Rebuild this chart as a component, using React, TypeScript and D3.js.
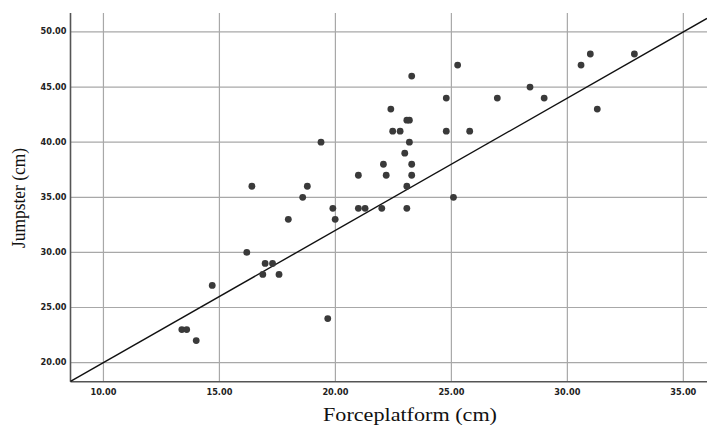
import React from "react";
import * as d3 from "d3";

const forceplatform = [
  13.38, 13.59, 14.0, 14.69, 16.18, 16.4, 16.87, 16.97, 17.29, 17.57, 17.97, 18.59, 18.79, 19.38, 19.67, 19.89,
  19.99, 20.99, 20.99, 21.28, 22.0, 22.07, 22.19, 22.39, 22.47, 22.79, 22.99, 23.08, 23.19, 23.19, 23.08, 23.08,
  23.29, 23.29, 23.29, 24.78, 24.78, 25.09, 25.27, 25.79, 26.98, 28.39, 29.0, 30.59, 30.99, 31.29, 32.89,
];
const jumpster = [
  23, 23, 22, 27, 30, 36, 28, 29, 29, 28, 33, 35, 36, 40, 24, 34,
  33, 37, 34, 34, 34, 38, 37, 43, 41, 41, 39, 42, 42, 40, 36, 34,
  46, 38, 37, 44, 41, 35, 47, 41, 44, 45, 44, 47, 48, 43, 48,
];
const xTicks = [10, 15, 20, 25, 30, 35];
const yTicks = [20, 25, 30, 35, 40, 45, 50];
const fitIntercept = 8;
const fitSlope = 1.2;
const xTitle = "Forceplatform (cm)";
const yTitle = "Jumpster (cm)";

export default function App() {
  const W = 707;
  const H = 426;
  const left = 70.5;
  const right = 707;
  const top = 13;
  const bottom = 381.7;
  const x = d3.scaleLinear().domain([8.58, 36.02]).range([left, right]);
  const y = d3.scaleLinear().domain([18.27, 51.72]).range([bottom, top]);
  const fmt = d3.format(".2f");
  const xd = x.domain();
  const line = d3.line<number>()
    .x((v) => x(v))
    .y((v) => y(fitIntercept + fitSlope * v));
  const pts = forceplatform.map((v, i) => [v, jumpster[i]]);
  return (
    <svg width={W} height={H} style={{ position: "absolute", left: 0, top: 0, background: "#fff" }}>
      <g>
        {yTicks.map((t) => (
          <line key={"gy" + t} x1={left} x2={right} y1={y(t)} y2={y(t)} stroke="#a8a8a8" strokeWidth={1.2} />
        ))}
        {xTicks.map((t) => (
          <line key={"gx" + t} x1={x(t)} x2={x(t)} y1={top} y2={bottom} stroke="#a8a8a8" strokeWidth={1.2} />
        ))}
      </g>
      <line x1={left} x2={left} y1={top} y2={bottom} stroke="#555" strokeWidth={1.6} />
      <line x1={left} x2={right} y1={bottom} y2={bottom} stroke="#555" strokeWidth={1.6} />
      {yTicks.map((t) => (
        <text key={"ty" + t} x={66.5} y={y(t)} textAnchor="end" dominantBaseline="middle"
          fontFamily="'DejaVu Sans', sans-serif" fontWeight="bold" fontSize={8.5} fill="#222"
          textLength={26} lengthAdjust="spacingAndGlyphs">{fmt(t)}</text>
      ))}
      {xTicks.map((t) => (
        <text key={"tx" + t} x={x(t)} y={392} textAnchor="middle" dominantBaseline="middle"
          fontFamily="'DejaVu Sans', sans-serif" fontWeight="bold" fontSize={8.5} fill="#222"
          textLength={26} lengthAdjust="spacingAndGlyphs">{fmt(t)}</text>
      ))}
      <path d={line([xd[0], xd[1]]) || ""} fill="none" stroke="#111" strokeWidth={1.4} />
      {pts.map((p, i) => (
        <circle key={i} cx={x(p[0])} cy={y(p[1])} r={3.4} fill="#3a3a3a" />
      ))}
      <text x={410} y={421} textAnchor="middle" fontFamily="'Liberation Serif', 'DejaVu Serif', serif"
        fontSize={18} fill="#111" textLength={174} lengthAdjust="spacingAndGlyphs">{xTitle}</text>
      <text transform={`translate(25,198) rotate(-90)`} textAnchor="middle"
        fontFamily="'Liberation Serif', 'DejaVu Serif', serif" fontSize={18} fill="#111"
        textLength={100} lengthAdjust="spacingAndGlyphs">{yTitle}</text>
    </svg>
  );
}
